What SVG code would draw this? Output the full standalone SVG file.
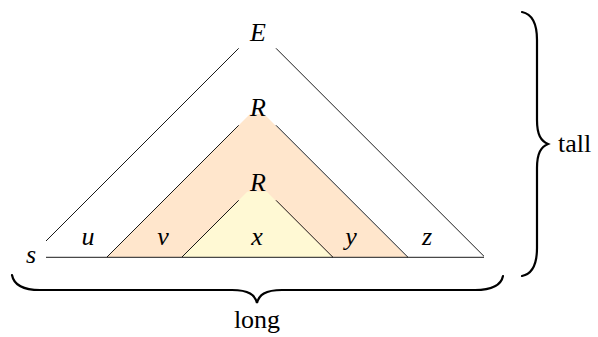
<svg xmlns="http://www.w3.org/2000/svg" width="598" height="337" viewBox="0 0 598 337">
<defs>
<style>
.ln{stroke:#000;stroke-width:0.9;fill:none}
.br{stroke:#000;stroke-width:2.2;fill:none;stroke-linecap:round}
</style>
</defs>
<rect width="598" height="337" fill="#fff"/>
<g id="fills">
<polygon points="107,257 257,107 407,257" fill="#FFE6CC"/>
<polygon points="182,257 257,182 332,257" fill="#FFF9D4"/>
<rect x="246" y="95" width="23" height="19" fill="#fff"/>
<rect x="246" y="170" width="23" height="21.5" fill="#FFE6CC"/>
</g>
<g id="connectors">
<line class="ln" x1="238.7" y1="48.3" x2="46" y2="241"/>
<line class="ln" x1="276" y1="48.3" x2="484" y2="256.3"/>
<line class="ln" x1="238.7" y1="125.3" x2="107" y2="257"/>
<line class="ln" x1="276" y1="125.3" x2="408" y2="257.3"/>
<line class="ln" x1="238.7" y1="200.3" x2="182" y2="257"/>
<line class="ln" x1="276" y1="200.3" x2="333" y2="257.3"/>
<line class="ln" x1="46" y1="257.3" x2="484" y2="257.3" stroke-width="1.1"/>
</g>
<g id="node-E"><text style="font-family:'Liberation Serif','Times New Roman',serif;font-style:italic;font-size:26px;text-anchor:middle" x="258" y="40.5">E</text></g>
<g id="node-R1"><text style="font-family:'Liberation Serif','Times New Roman',serif;font-style:italic;font-size:26px;text-anchor:middle" x="258" y="115.5">R</text></g>
<g id="node-R2"><text style="font-family:'Liberation Serif','Times New Roman',serif;font-style:italic;font-size:26px;text-anchor:middle" x="258" y="191">R</text></g>
<g id="node-s"><text style="font-family:'Liberation Serif','Times New Roman',serif;font-style:italic;font-size:26px;text-anchor:middle" x="31" y="263">s</text></g>
<g id="label-u"><text style="font-family:'Liberation Serif','Times New Roman',serif;font-style:italic;font-size:26px;text-anchor:middle" x="88" y="245">u</text></g>
<g id="label-v"><text style="font-family:'Liberation Serif','Times New Roman',serif;font-style:italic;font-size:26px;text-anchor:middle" x="163" y="245">v</text></g>
<g id="label-x"><text style="font-family:'Liberation Serif','Times New Roman',serif;font-style:italic;font-size:26px;text-anchor:middle" x="257" y="245">x</text></g>
<g id="label-y"><text style="font-family:'Liberation Serif','Times New Roman',serif;font-style:italic;font-size:26px;text-anchor:middle" x="351" y="245">y</text></g>
<g id="label-z"><text style="font-family:'Liberation Serif','Times New Roman',serif;font-style:italic;font-size:26px;text-anchor:middle" x="427" y="245">z</text></g>
<g id="brace-long">
<path class="br" d="M12,275 C14,286 25,290 40,290 L232,290 C249,290 255,295 257,303 C259,295 265,290 282,290 L475,290 C490,290 501,286 503,276"/>
<text style="font-family:'Liberation Serif','Times New Roman',serif;font-size:26px;text-anchor:middle" x="257" y="328">long</text>
</g>
<g id="brace-tall">
<path class="br" d="M522,12 C532,14 537,24 537,40 L537,120 C537,135 541,141 548,144 C541,147 537,153 537,168 L537,248 C537,264 532,274 522,276"/>
<text style="font-family:'Liberation Serif','Times New Roman',serif;font-size:26px" x="558" y="152">tall</text>
</g>
</svg>
